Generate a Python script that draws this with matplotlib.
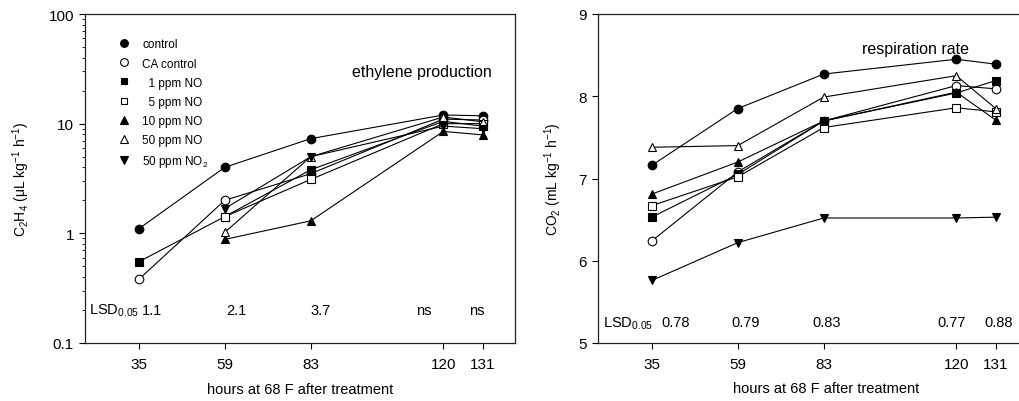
import matplotlib
matplotlib.use("Agg")
import matplotlib.pyplot as plt
from matplotlib.lines import Line2D
from matplotlib.ticker import LogLocator, NullFormatter, FixedLocator

plt.rcParams["font.family"] = ["Liberation Sans", "DejaVu Sans"]
plt.rcParams["mathtext.fontset"] = "custom"
plt.rcParams["mathtext.rm"] = "Liberation Sans"
plt.rcParams["mathtext.it"] = "Liberation Sans"

hours = [35, 59, 83, 120, 131]
treatments = ["control", "CA control", "  1 ppm NO", "  5 ppm NO",
              "10 ppm NO", "50 ppm NO", "50 ppm NO$_2$"]
markers = ["o", "o", "s", "s", "^", "^", "v"]
marker_size = [6.2, 6.2, 5.4, 5.4, 6.4, 6.4, 6.4]
filled = [True, False, True, False, True, False, True]

# ethylene production (uL kg-1 h-1), None = not measured
ethylene = [
    [1.1, 4.0, 7.3, 12.0, 11.8],
    [0.38, 2.0, 3.5, 11.0, 10.8],
    [0.55, 1.42, 3.8, 10.5, 9.5],
    [None, 1.42, 3.1, 10.0, 10.0],
    [None, 0.88, 1.3, 8.5, 7.9],
    [None, 1.02, 5.0, 11.5, 10.4],
    [None, 1.68, 5.0, 9.5, 9.0],
]
# respiration rate (mL kg-1 h-1)
respiration = [
    [7.16, 7.85, 8.27, 8.45, 8.39],
    [6.24, 7.08, 7.70, 8.13, 8.09],
    [6.53, 7.05, 7.70, 8.04, 8.19],
    [6.67, 7.02, 7.62, 7.86, 7.81],
    [6.81, 7.20, 7.70, 8.05, 7.71],
    [7.38, 7.40, 7.99, 8.25, 7.85],
    [5.76, 6.22, 6.52, 6.52, 6.53],
]

lsd_eth = ["1.1", "2.1", "3.7", "ns", "ns"]
lsd_eth_x = [36.0, 59.5, 83.0, 112.3, 127.1]
lsd_resp = ["0.78", "0.79", "0.83", "0.77", "0.88"]
lsd_resp_x = [37.8, 57.3, 79.9, 114.8, 127.9]

fig = plt.figure(figsize=(10.19, 4.02), dpi=100)
ax1 = fig.add_axes([85 / 1019, 58 / 402, 430 / 1019, 329 / 402])
ax2 = fig.add_axes([598 / 1019, 58 / 402, 430 / 1019, 329 / 402])


def draw_series(ax, data):
    for vals, m, ms, f in zip(data, markers, marker_size, filled):
        xs = [h for h, v in zip(hours, vals) if v is not None]
        ys = [v for v in vals if v is not None]
        ax.plot(xs, ys, color="black", lw=0.8, marker=m, ms=ms,
                mfc="black" if f else "white", mec="black", mew=0.8)


def style_axes(ax):
    ax.set_xlim(20, 140)
    ax.xaxis.set_major_locator(FixedLocator(hours))
    ax.tick_params(axis="both", which="major", direction="out", length=4,
                   width=0.8, labelsize=11, pad=4)
    ax.tick_params(axis="y", which="minor", direction="out", length=2.5,
                   width=0.6)
    ax.tick_params(axis="x", pad=6)
    for s in ax.spines.values():
        s.set_linewidth(0.9)
        s.set_color("#222222")


draw_series(ax1, ethylene)
ax1.set_yscale("log")
ax1.set_ylim(0.1, 100)
ax1.yaxis.set_minor_locator(LogLocator(base=10, subs=range(2, 10)))
ax1.yaxis.set_minor_formatter(NullFormatter())
ax1.set_yticks([0.1, 1, 10, 100])
ax1.set_yticklabels(["0.1", "1", "10", "100"])
style_axes(ax1)
ax1.set_ylabel("C$_2$H$_4$ ($\\mu$L kg$^{-1}$ h$^{-1}$)", fontsize=10, labelpad=12)
ax1.set_xlabel("hours at 68 F after treatment", fontsize=10.5, labelpad=8)
ax1.text(0.62, 0.825, "ethylene production", transform=ax1.transAxes,
         fontsize=11.5, va="center")
ax1.text(21.1, 0.2, "LSD$_{0.05}$", fontsize=10.5, va="center")
for x, s in zip(lsd_eth_x, lsd_eth):
    ax1.text(x, 0.2, s, fontsize=10.5, va="center")

handles = [Line2D([], [], ls="none", marker=m, ms=ms * 0.9, color="black",
                  mfc="black" if f else "white", mec="black", mew=0.8)
           for m, ms, f in zip(markers, marker_size, filled)]
ax1.legend(handles, treatments, loc="upper left", frameon=False, fontsize=8.5,
           bbox_to_anchor=(0.065, 0.94), handlelength=1.0, handletextpad=1.1,
           labelspacing=0.6, borderaxespad=0)

draw_series(ax2, respiration)
ax2.set_ylim(5, 9)
ax2.set_yticks([5, 6, 7, 8, 9])
style_axes(ax2)
ax2.spines["right"].set_visible(False)
ax2.set_ylabel("CO$_2$ (mL kg$^{-1}$ h$^{-1}$)", fontsize=10, labelpad=10)
ax2.set_xlabel("hours at 68 F after treatment", fontsize=10.5, labelpad=1)
ax2.xaxis.set_label_coords(0.53, -0.115)
ax2.text(0.615, 0.895, "respiration rate", transform=ax2.transAxes,
         fontsize=11.5, va="center")
ax2.text(21.3, 5.25, "LSD$_{0.05}$", fontsize=10.5, va="center")
for x, s in zip(lsd_resp_x, lsd_resp):
    ax2.text(x, 5.25, s, fontsize=10.5, va="center")

fig.savefig("out.png", dpi=100)
